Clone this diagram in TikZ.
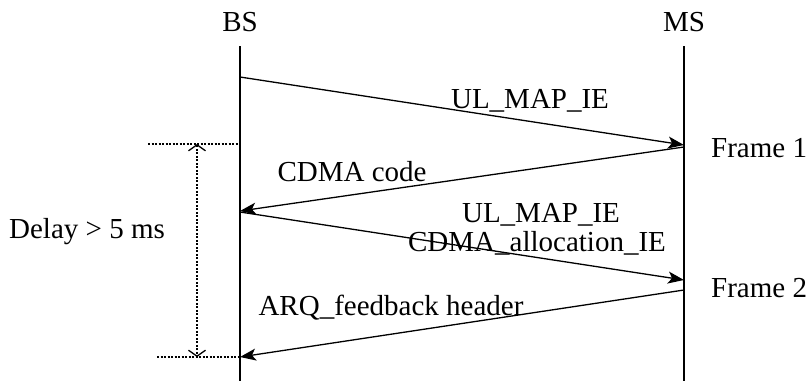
\documentclass[tikz,border=0pt]{standalone}
\usepackage{fontspec}
\setmainfont{Liberation Serif}
\usetikzlibrary{arrows.meta}
\begin{document}
\begin{tikzpicture}[x=1pt,y=-1pt,
  txt/.style={inner sep=0pt,font=\fontsize{29}{32}\selectfont},
  life/.style={line width=1.3pt},
  msg/.style={line width=1.3pt,-{Stealth[length=16pt,width=12pt,inset=4pt]}},
  dotline/.style={line width=1.3pt,dash pattern=on 2pt off 1.5pt},
  dly/.style={dotline,{Straight Barb[length=6pt,width=17pt]}-{Straight Barb[length=6pt,width=17pt]}}]
\useasboundingbox (0,0) rectangle (810,381);
\node[txt] (bs) at (240,22) {BS};
\node[txt] (ms) at (684,22) {MS};
\coordinate (bstop) at (240,46);
\coordinate (bsbot) at (240,381);
\coordinate (mstop) at (684,46);
\coordinate (msbot) at (684,381);
\draw[life] (bstop) -- (bsbot);
\draw[life] (mstop) -- (msbot);
\coordinate (b1) at (240,77);
\coordinate (m1) at (684,145);
\coordinate (m2) at (684,147);
\coordinate (b2) at (240,211);
\coordinate (b3) at (240,212);
\coordinate (m3) at (684,280);
\coordinate (m4) at (684,290);
\coordinate (b4) at (240,357);
\draw[msg] (b1) -- (m1);
\draw[msg] (m2) -- (b2);
\draw[msg] (b3) -- (m3);
\draw[msg] (m4) -- (b4);
\node[txt] (l1) at (530,101) {UL\_MAP\_IE};
\node[txt] (l2) at (352,172) {CDMA code};
\node[txt] (l3) at (541,215) {UL\_MAP\_IE};
\node[txt] (l4) at (537,243) {CDMA\_allocation\_IE};
\node[txt] (l5) at (391,308) {ARQ\_feedback header};
\node[txt,anchor=west] (f1) at (711,148) {Frame 1};
\node[txt,anchor=west] (f2) at (711,288) {Frame 2};
\coordinate (d1l) at (148,144);
\coordinate (d1r) at (240,144);
\coordinate (d2l) at (157,357);
\coordinate (d2r) at (240,357);
\draw[dotline] (d1l) -- (d1r);
\draw[dotline] (d2l) -- (d2r);
\coordinate (va) at (197,144);
\coordinate (vb) at (197,357);
\draw[dly] (va) -- (vb);
\node[txt] (delay) at (87,232) {Delay > 5 ms};
\end{tikzpicture}
\end{document}
